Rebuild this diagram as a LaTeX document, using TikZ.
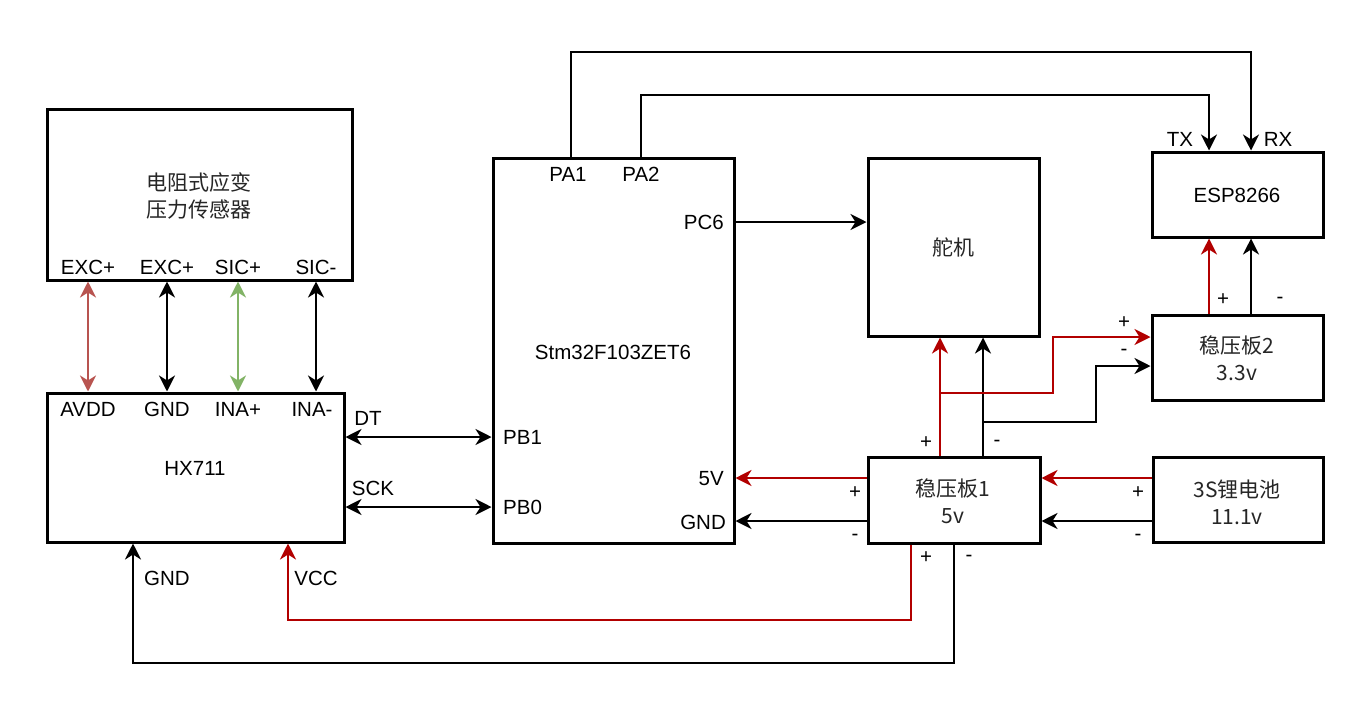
\documentclass[tikz,border=0pt]{standalone}
\usepackage{fontspec}
\setmainfont{Liberation Sans}
\newfontfamily\cjk{Noto Sans CJK SC}
\usetikzlibrary{arrows.meta}
\definecolor{pwr}{HTML}{B20000}
\definecolor{sred}{HTML}{B85450}
\definecolor{sgreen}{HTML}{82B366}
\tikzset{
  blk/.style={draw, line width=3pt, inner sep=0pt, fill=white},
  lbl/.style={inner sep=0pt, font=\fontsize{20.5}{24}\selectfont},
  zh/.style={inner sep=0pt, align=center, font=\fontsize{21}{27}\selectfont\cjk, text=black!85},
  tip/.tip={Stealth[length=16pt,width=16pt,inset=5pt]},
  wire/.style={line width=2.7pt},
  arr/.style={wire, -tip},
  dbl/.style={wire, tip-tip},
}
\begin{document}
\begin{tikzpicture}[x=1pt,y=-1pt]
\useasboundingbox (0,0) rectangle (1349,705);
% blocks
\node[blk, minimum width=305pt, minimum height=171pt] (sensor) at (199.5,194.5) {};
\node[zh] (sensorT) at (199,196) {电阻式应变\\压力传感器};
\node[blk, minimum width=297pt, minimum height=149pt] (hx) at (195.5,467.5) {};
\node[lbl] (hxT) at (195,468) {HX711};
\node[blk, minimum width=241pt, minimum height=385pt] (stm) at (613.5,350.5) {};
\node[lbl] (stmT) at (613,352) {Stm32F103ZET6};
\node[blk, minimum width=171pt, minimum height=178pt] (servo) at (953.5,247) {};
\node[zh] (servoT) at (953,248) {舵机};
\node[blk, minimum width=171pt, minimum height=85pt] (esp) at (1237.5,194.5) {};
\node[lbl] (espT) at (1237,195) {ESP8266};
\node[blk, minimum width=171pt, minimum height=85pt] (reg2) at (1237.5,357.5) {};
\node[zh] (reg2T) at (1237,358) {稳压板2\\3.3v};
\node[blk, minimum width=172pt, minimum height=86pt] (reg1) at (954,500) {};
\node[zh] (reg1T) at (953,501) {稳压板1\\5v};
\node[blk, minimum width=170pt, minimum height=85pt] (bat) at (1238,499.5) {};
\node[zh] (batT) at (1237,502) {3S锂电池\\11.1v};

% pin labels
\node[lbl] (s1) at (88,267) {EXC+};
\node[lbl] (s2) at (167,267) {EXC+};
\node[lbl] (s3) at (238,267) {SIC+};
\node[lbl] (s4) at (316,267) {SIC-};
\node[lbl] (h1) at (88,409) {AVDD};
\node[lbl] (h2) at (167,409) {GND};
\node[lbl] (h3) at (238,409) {INA+};
\node[lbl] (h4) at (312,409) {INA-};
\node[lbl] (pa1) at (568,174) {PA1};
\node[lbl] (pa2) at (641,174) {PA2};
\node[lbl, anchor=east] (pc6) at (724,222) {PC6};
\node[lbl, anchor=west] (pb1) at (503,437) {PB1};
\node[lbl, anchor=west] (pb0) at (503,507) {PB0};
\node[lbl, anchor=east] (v5) at (724,479) {5V};
\node[lbl, anchor=east] (gnd) at (726,522) {GND};
\node[lbl] (dt) at (368,418) {DT};
\node[lbl] (sck) at (373,488) {SCK};
\node[lbl] (tx) at (1180,139) {TX};
\node[lbl] (rx) at (1278,139) {RX};
\node[lbl] (hgnd) at (167,578) {GND};
\node[lbl] (hvcc) at (316,578) {VCC};
% +/- labels
\node[lbl] (p1) at (926,443) {+};
\node[lbl] (m1) at (997,443) {-};
\node[lbl] (p2) at (1124,323) {+};
\node[lbl] (m2) at (1124,352) {-};
\node[lbl] (p3) at (1223,300) {+};
\node[lbl] (m3) at (1280,300) {-};
\node[lbl] (p4) at (1138,493) {+};
\node[lbl] (m4) at (1138,537) {-};
\node[lbl] (p5) at (855,493) {+};
\node[lbl] (m5) at (855,537) {-};
\node[lbl] (p6) at (926,558) {+};
\node[lbl] (m6) at (969,558) {-};

% coordinates
\coordinate (c1) at (88,0);
\coordinate (c2) at (167,0);
\coordinate (c3) at (238,0);
\coordinate (c4) at (316,0);
\coordinate (yDT) at (0,437);
\coordinate (ySCK) at (0,507);
\coordinate (yPC6) at (0,222);
\coordinate (t1) at (571,52);
\coordinate (t2) at (641,95);
\coordinate (xTX) at (1209,0);
\coordinate (xRX) at (1251,0);
\coordinate (xR) at (940,0);
\coordinate (xB) at (983,0);
\coordinate (j1) at (940,393);
\coordinate (k1) at (1053,337);
\coordinate (j2) at (983,422);
\coordinate (k2) at (1096,366);
\coordinate (y5) at (0,478);
\coordinate (yG) at (0,521);
\coordinate (b1) at (911,620);
\coordinate (b2) at (954,663);
\coordinate (xV) at (288,0);
\coordinate (xG) at (133,0);

% sensor <-> hx711
\draw[dbl, sred] (c1 |- sensor.south) -- (c1 |- hx.north);
\draw[dbl] (c2 |- sensor.south) -- (c2 |- hx.north);
\draw[dbl, sgreen] (c3 |- sensor.south) -- (c3 |- hx.north);
\draw[dbl] (c4 |- sensor.south) -- (c4 |- hx.north);
% hx711 <-> stm
\draw[dbl] (hx.east |- yDT) -- (stm.west |- yDT);
\draw[dbl] (hx.east |- ySCK) -- (stm.west |- ySCK);
% stm -> servo
\draw[arr] (stm.east |- yPC6) -- (servo.west |- yPC6);
% stm -> esp
\draw[arr] (t1 |- stm.north) -- (t1) -| (xRX |- esp.north);
\draw[arr] (t2 |- stm.north) -- (t2) -| (xTX |- esp.north);
% reg1 -> servo
\draw[arr, pwr] (xR |- reg1.north) -- (xR |- servo.south);
\draw[arr] (xB |- reg1.north) -- (xB |- servo.south);
% reg1 -> reg2
\draw[arr, pwr] (j1) -| (k1) -- (reg2.west |- k1);
\draw[arr] (j2) -| (k2) -- (reg2.west |- k2);
% reg2 -> esp
\draw[arr, pwr] (xTX |- reg2.north) -- (xTX |- esp.south);
\draw[arr] (xRX |- reg2.north) -- (xRX |- esp.south);
% battery -> reg1
\draw[arr, pwr] (bat.west |- y5) -- (reg1.east |- y5);
\draw[arr] (bat.west |- yG) -- (reg1.east |- yG);
% reg1 -> stm
\draw[arr, pwr] (reg1.west |- y5) -- (stm.east |- y5);
\draw[arr] (reg1.west |- yG) -- (stm.east |- yG);
% reg1 -> hx711
\draw[arr, pwr] (b1 |- reg1.south) -- (b1) -| (xV |- hx.south);
\draw[arr] (b2 |- reg1.south) -- (b2) -| (xG |- hx.south);
\end{tikzpicture}
\end{document}
